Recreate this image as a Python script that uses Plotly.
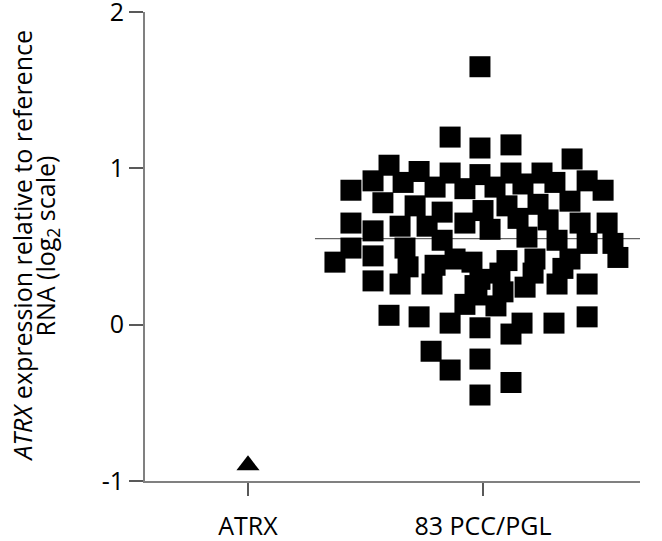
import plotly.graph_objects as go

# ---- data ----
categories = ["ATRX", "83 PCC/PGL"]
atrx_value = [-0.90]

# 83 PCC/PGL tumours: horizontal scatter offset (jitter) and log2 expression
pcc_jitter = [
    -0.013, -0.140, -0.013, 0.119, 0.379, -0.400, -0.272, -0.140, -0.013, 0.119,
    0.251, -0.562, -0.468, -0.340, -0.204, -0.077, 0.051, 0.170, 0.306, 0.443,
    0.511, -0.426, -0.289, -0.174, 0.000, 0.102, 0.234, 0.370, -0.562, -0.468,
    -0.353, -0.238, -0.077, 0.030, 0.149, 0.277, 0.413, 0.528, -0.562, -0.468,
    -0.332, -0.174, 0.187, 0.315, 0.443, 0.553, -0.630, -0.319, -0.204, -0.119,
    -0.047, 0.102, 0.221, 0.370, 0.574, 0.072, 0.213, 0.340, -0.013, -0.468,
    -0.353, -0.217, -0.034, 0.085, 0.179, 0.315, 0.443, -0.077, 0.055, -0.400,
    -0.272, -0.140, -0.013, 0.119, 0.166, 0.302, 0.443, -0.221, -0.140, -0.013,
    0.119, -0.013, -0.026,
]
pcc_values = [
    1.65, 1.20, 1.13, 1.15, 1.06, 1.02, 0.98, 0.97, 0.96, 0.97,
    0.97, 0.86, 0.92, 0.91, 0.88, 0.87, 0.88, 0.90, 0.91, 0.92,
    0.86, 0.78, 0.76, 0.72, 0.73, 0.76, 0.77, 0.79, 0.65, 0.60,
    0.63, 0.63, 0.65, 0.61, 0.68, 0.67, 0.65, 0.65, 0.49, 0.44,
    0.49, 0.54, 0.56, 0.54, 0.52, 0.52, 0.40, 0.37, 0.38, 0.42,
    0.40, 0.41, 0.42, 0.42, 0.43, 0.33, 0.33, 0.36, 0.29, 0.28,
    0.26, 0.26, 0.25, 0.21, 0.24, 0.26, 0.26, 0.13, 0.12, 0.06,
    0.05, 0.01, -0.02, -0.06, 0.01, 0.01, 0.05, -0.17, -0.29, -0.22,
    -0.37, -0.45, 0.19,
]
pcc_median = 0.55
median_span = [0.285, 1.668]

y_ticks = [-1, 0, 1, 2]
y_ticktext = ["-1", "0", "1", "2"]

FONT = "Open Sans"

fig = go.Figure()

# median line (drawn under the squares)
fig.add_trace(go.Scatter(
    x=median_span, y=[pcc_median, pcc_median], mode="lines",
    line=dict(color="#404040", width=1), hoverinfo="skip", showlegend=False,
))

fig.add_trace(go.Scatter(
    x=[0] * len(atrx_value), y=atrx_value, mode="markers",
    marker=dict(symbol="triangle-up", size=20, color="black", line=dict(width=0)),
    showlegend=False,
))

fig.add_trace(go.Scatter(
    x=[1 + j for j in pcc_jitter], y=pcc_values, mode="markers",
    marker=dict(symbol="square", size=21, color="black", line=dict(width=0)),
    showlegend=False,
))

axis_common = dict(
    showline=True, linecolor="#808080", linewidth=2,
    ticks="outside", tickcolor="#595959", tickwidth=1.5,
    showgrid=False, zeroline=False, automargin=False,
    ticklabeloverflow="allow",
    tickfont=dict(family=FONT, size=25, color="black"),
)

fig.update_xaxes(
    range=[-0.4383, 1.668], tickmode="array", tickvals=[0, 1], ticktext=categories,
    ticklen=13, ticklabelstandoff=9, **axis_common,
)
fig.update_yaxes(
    range=[-1, 2.0001], tickmode="array", tickvals=y_ticks, ticktext=y_ticktext,
    ticklen=14, **axis_common,
)

title_lines = ["<i>ATRX</i> expression relative to reference",
               "RNA (log<sub>2</sub> scale)"]
title_px = [21, 46]
for txt, px in zip(title_lines, title_px):
    fig.add_annotation(
        text=txt, xref="paper", yref="paper",
        x=(px - 145) / 495, y=0.5, xanchor="center", yanchor="middle",
        textangle=-90, showarrow=False,
        font=dict(family=FONT, size=25, color="black"),
    )

fig.update_layout(
    width=662, height=541,
    margin=dict(l=145, r=22, t=12, b=60, autoexpand=False),
    plot_bgcolor="white", paper_bgcolor="white",
    showlegend=False,
)

fig.write_html(
    "out.html",
    config={"displayModeBar": False},
    post_script="document.body.style.margin='0';document.body.style.overflow='hidden';",
)
